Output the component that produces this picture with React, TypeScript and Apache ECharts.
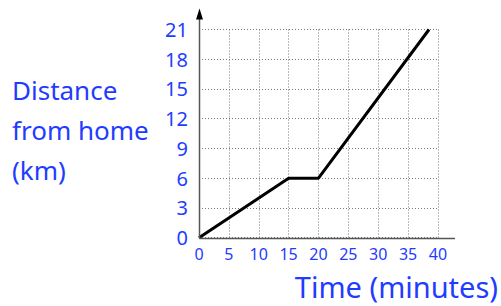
import React, { useEffect, useRef } from "react";
import * as echarts from "echarts";

const timeMinutes = [0, 15, 20, 38.5];
const distanceKm = [0, 6, 6, 21];
const xTicks = { min: 0, max: 40, interval: 5 };
const yTicks = { min: 0, max: 21, interval: 3 };
const yTitleLines = ["Distance", "from home", "(km)"];
const xTitle = "Time (minutes)";

const BLUE = "#1f3cff";
const FONT = "'Comic Sans MS', 'Noto Sans', sans-serif";

export default function App() {
  const ref = useRef<HTMLDivElement>(null);
  useEffect(() => {
    if (!ref.current) return;
    const chart = echarts.init(ref.current, undefined, { renderer: "svg" });
    chart.setOption({
      animation: false,
      grid: { left: 199, right: 63, top: 29.5, bottom: 68.3, containLabel: false },
      xAxis: {
        type: "value",
        min: xTicks.min,
        max: xTicks.max,
        interval: xTicks.interval,
        axisLine: { show: false },
        axisTick: { show: false },
        axisLabel: { color: BLUE, fontSize: 16, fontFamily: FONT, margin: 8 },
        splitLine: { show: true, lineStyle: { color: "#777", type: [1, 2], width: 1 } },
      },
      yAxis: {
        type: "value",
        min: yTicks.min,
        max: yTicks.max,
        interval: yTicks.interval,
        axisLine: { show: false },
        axisTick: { show: false },
        axisLabel: { color: BLUE, fontSize: 20, fontFamily: FONT, margin: 11 },
        splitLine: { show: true, lineStyle: { color: "#777", type: [1, 2], width: 1 } },
      },
      series: [
        {
          type: "line",
          data: timeMinutes.map((t, i) => [t, distanceKm[i]]),
          symbol: "none",
          lineStyle: { color: "#000", width: 3 },
        },
      ],
    });
    const o = chart.convertToPixel({ gridIndex: 0 }, [xTicks.min, yTicks.min]) as number[];
    const e = chart.convertToPixel({ gridIndex: 0 }, [xTicks.max, yTicks.max]) as number[];
    const ox = Math.round(o[0]) + 0.5;
    const oy = Math.round(o[1]) + 0.5;
    chart.setOption({
      graphic: [
        {
          type: "line",
          shape: { x1: ox, y1: oy, x2: e[0] + 17, y2: oy },
          style: { stroke: "#555", lineWidth: 1.5 },
          z: 10,
        },
        {
          type: "line",
          shape: { x1: ox, y1: oy, x2: ox, y2: e[1] - 12 },
          style: { stroke: "#555", lineWidth: 1.5 },
          z: 10,
        },
        {
          type: "polygon",
          shape: {
            points: [
              [ox, e[1] - 21],
              [ox - 3.5, e[1] - 10],
              [ox + 3.5, e[1] - 10],
            ],
          },
          style: { fill: "#000" },
          z: 10,
        },
        {
          type: "text",
          left: 12,
          top: 70,
          style: {
            text: yTitleLines.join("\n"),
            fill: BLUE,
            font: `26px ${FONT}`,
            lineHeight: 40,
          },
        },
        {
          type: "text",
          right: 3,
          top: 271,
          style: {
            text: xTitle,
            fill: BLUE,
            font: `29px ${FONT}`,
            lineHeight: 31,
          },
        },
      ],
    });
    return () => chart.dispose();
  }, []);
  return <div ref={ref} style={{ width: 501, height: 306, position: "absolute", left: 0, top: 0 }} />;
}
